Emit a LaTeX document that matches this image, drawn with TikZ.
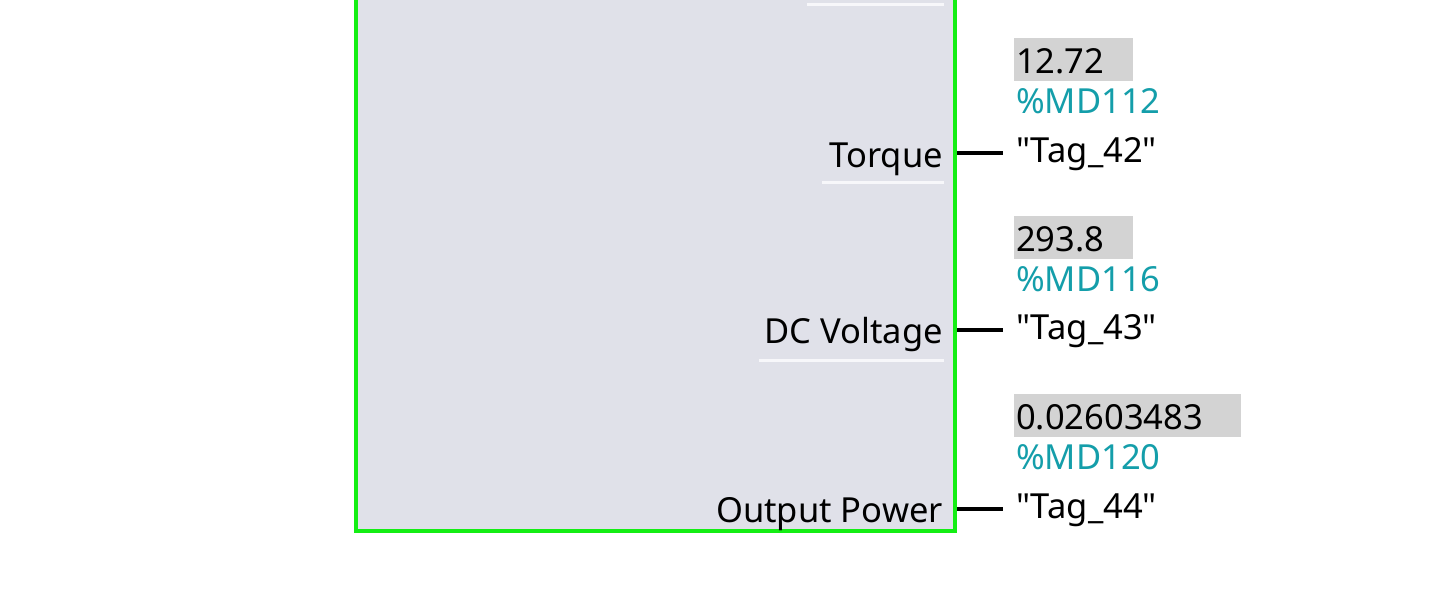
\documentclass[tikz,border=0pt]{standalone}
\usepackage{fontspec}
\setmainfont{Noto Sans}[Ligatures=TeXOff]
\definecolor{fbgreen}{RGB}{20,238,20}
\definecolor{fbfill}{RGB}{224,225,233}
\definecolor{valgray}{RGB}{211,211,211}
\definecolor{addrteal}{RGB}{20,158,170}
\definecolor{sepwhite}{RGB}{247,247,250}
\tikzset{
  fbbox/.style={draw=fbgreen,fill=fbfill,line width=4pt,inner sep=0pt},
  portlbl/.style={anchor=base east,inner sep=0pt,font=\fontsize{34.5}{40}\selectfont},
  sepline/.style={draw=sepwhite,line width=3pt},
  valbox/.style={anchor=base west,fill=valgray,inner xsep=2pt,inner ysep=0pt,text height=35pt,text depth=8pt,text width=#1,font=\fontsize{34.5}{40}\selectfont},
  addr/.style={anchor=base west,inner xsep=2pt,inner ysep=0pt,text=addrteal,font=\fontsize{34.5}{40}\selectfont},
  tagname/.style={anchor=base west,inner xsep=2pt,inner ysep=0pt,font=\fontsize{34.5}{40}\selectfont},
  pin/.style={line width=4pt,shorten >=11pt}
}
\begin{document}
\begin{tikzpicture}[x=1pt,y=-1pt]
\clip (0,0) rectangle (1430,592);
\fill[white] (0,0) rectangle (1430,592);
\node[fbbox,minimum width=599pt,minimum height=560pt,anchor=south west] (fb) at (354,533) {};
\draw[sepline] (807,4) -- (944,4);
\node[portlbl] (torque) at (943,167) {Torque};
\node[portlbl] (dcvolt) at (943,343) {DC Voltage};
\node[portlbl] (outpow) at (943,522) {Output Power};
\draw[sepline] ([xshift=-7pt]torque.west |- 0,182) -- (944,182);
\draw[sepline] ([xshift=-5pt]dcvolt.west |- 0,360) -- (944,360);
\coordinate (pT) at (fb.east |- 0,153);
\coordinate (pD) at (fb.east |- 0,330);
\coordinate (pO) at (fb.east |- 0,509);
\node[valbox=115pt] (valT) at (1014,73) {12.72};
\node[addr] (adrT) at (1014,113) {\%MD112};
\node[tagname] (tagT) at (1014,162) {"Tag\_42"};
\node[valbox=115pt] (valD) at (1014,251) {293.8};
\node[addr] (adrD) at (1014,291) {\%MD116};
\node[tagname] (tagD) at (1014,339) {"Tag\_43"};
\node[valbox=223pt] (valO) at (1014,429) {0.02603483};
\node[addr] (adrO) at (1014,469) {\%MD120};
\node[tagname] (tagO) at (1014,518) {"Tag\_44"};
\draw[pin] (pT) -- (pT -| tagT.west);
\draw[pin] (pD) -- (pD -| tagD.west);
\draw[pin] (pO) -- (pO -| tagO.west);
\end{tikzpicture}
\end{document}
